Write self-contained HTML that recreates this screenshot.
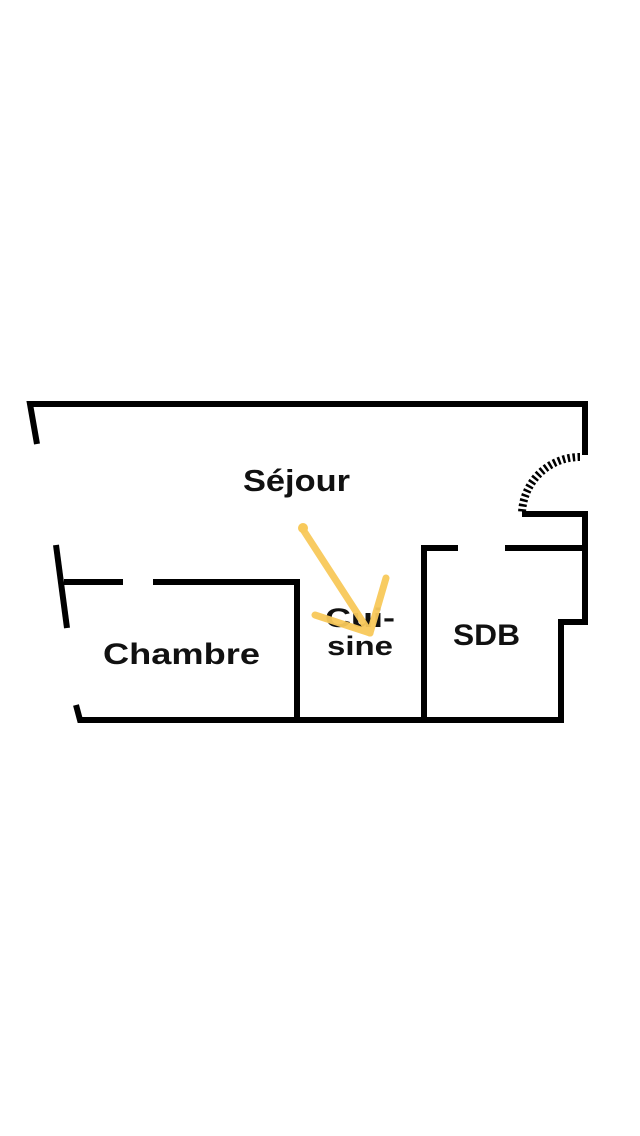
<!DOCTYPE html>
<html><head><meta charset="utf-8"><style>
html,body{margin:0;padding:0;background:#fff}
svg{display:block}
text{font-family:"Liberation Sans",sans-serif;font-weight:bold;fill:#111}
</style></head><body>
<svg width="640" height="1136" viewBox="0 0 640 1136" xmlns="http://www.w3.org/2000/svg">
<g stroke="#000" stroke-width="6" fill="none" stroke-linejoin="miter">
<polyline points="37,444 30,404 585,404 585,455"/>
<path d="M580,457 A58,58 0 0 0 522,513" stroke-width="8" stroke-dasharray="2.5,2.5"/>
<polyline points="522,514 585,514 585,622 561,622 561,720 80,720 76,705"/>
<line x1="56" y1="545" x2="67" y2="628"/>
<line x1="64" y1="582" x2="123" y2="582"/>
<polyline points="153,582 297,582 297,720"/>
<polyline points="424,720 424,548 458,548"/>
<line x1="505" y1="548" x2="585" y2="548"/>
</g>
<text x="243" y="491" font-size="31" textLength="107" lengthAdjust="spacingAndGlyphs">Séjour</text>
<text x="103" y="664" font-size="30" textLength="157" lengthAdjust="spacingAndGlyphs">Chambre</text>
<text x="325" y="627" font-size="27" textLength="70" lengthAdjust="spacingAndGlyphs">Cui-</text>
<text x="327" y="655" font-size="27" textLength="66" lengthAdjust="spacingAndGlyphs">sine</text>
<text x="453" y="645" font-size="30" textLength="67" lengthAdjust="spacingAndGlyphs">SDB</text>
<g stroke="#f8c95a" stroke-width="7" stroke-linecap="round" fill="none" opacity="0.95">
<line x1="302" y1="528" x2="370" y2="633"/>
<line x1="386" y1="578" x2="370" y2="633"/>
<line x1="315" y1="615" x2="370" y2="633"/>
</g>
<circle cx="303" cy="528" r="5" fill="#f8c95a"/>
</svg>
</body></html>
